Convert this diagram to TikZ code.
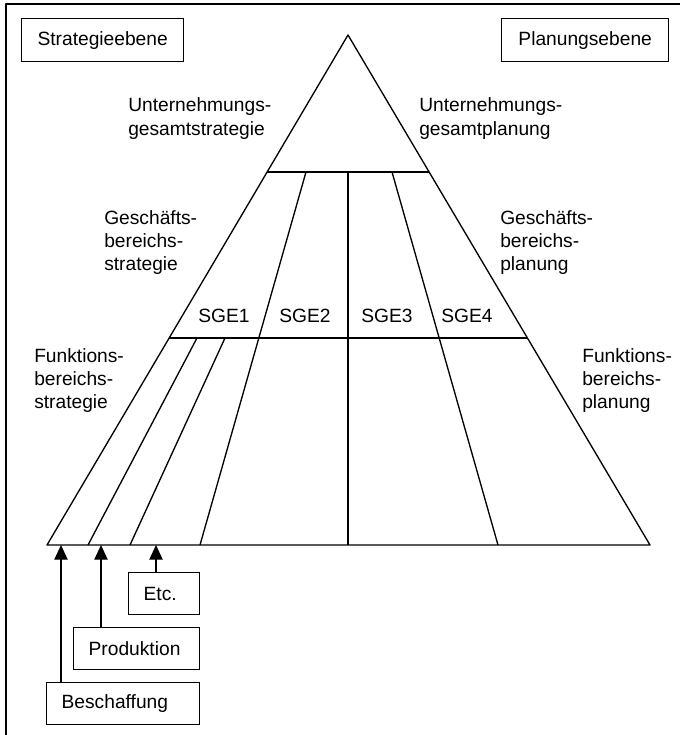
\documentclass[tikz,border=0pt]{standalone}
\usepackage{fontspec}
\setmainfont{Liberation Sans}
\usetikzlibrary{arrows.meta}
\begin{document}
\begin{tikzpicture}[x=0.75pt,y=-0.75pt,
  ln/.style={line width=1pt, line join=round},
  txt/.style={font=\fontsize{14.4}{17.25}\selectfont},
  lbl/.style={txt, inner sep=0pt, align=left, anchor=base west},
  sge/.style={txt, inner sep=0pt, anchor=base},
  topbox/.style={txt, draw, line width=1pt, anchor=north west, minimum height=32.25pt, inner sep=0pt},
  srcbox/.style={txt, draw, line width=1pt, anchor=north west, inner xsep=11.25pt, inner ysep=0pt, align=left, minimum height=31.5pt},
  arr/.style={line width=1pt, -{Triangle[length=11pt,width=10pt]}}
]
\useasboundingbox (0,0) rectangle (680,735);
% frame (top and left edges visible)
\draw[ln] (680,4) -- (6,4) -- (6,735);

% top boxes
\node[topbox, minimum width=121.5pt] (strat) at (21,18) {Strategieebene};
\node[topbox, minimum width=125.25pt] (plan) at (501,18) {Planungsebene};

% pyramid
\coordinate (apex) at (348,35);
\coordinate (bl) at (47,545);
\coordinate (br) at (650,545);
\draw[ln] (apex) -- (bl) -- (br) -- cycle;

\coordinate (l1a) at (267.1,172);
\coordinate (l1b) at (429.1,172);
\coordinate (l2a) at (169.2,338);
\coordinate (l2b) at (527.4,338);
\draw[ln] (l1a) -- (l1b);
\draw[ln] (l2a) -- (l2b);

\coordinate (c1) at (348,172);
\coordinate (c2) at (348,545);
\draw[ln] (c1) -- (c2);

\coordinate (d1a) at (306,172);
\coordinate (d1b) at (200,545);
\coordinate (d2a) at (392,172);
\coordinate (d2b) at (498,545);
\draw[ln] (d1a) -- (d1b);
\draw[ln] (d2a) -- (d2b);

\coordinate (f1a) at (197,338);
\coordinate (f1b) at (88,545);
\coordinate (f2a) at (225,338);
\coordinate (f2b) at (130,545);
\draw[ln] (f1a) -- (f1b);
\draw[ln] (f2a) -- (f2b);

% SGE labels
\node[sge] (sge1) at (224,322) {SGE1};
\node[sge] (sge2) at (305,322) {SGE2};
\node[sge] (sge3) at (387,322) {SGE3};
\node[sge] (sge4) at (467,322) {SGE4};

% level labels (base anchor = baseline of last line)
\node[lbl] (ugs) at (128,135) {Unternehmungs-\\gesamtstrategie};
\node[lbl] (ugp) at (419,135) {Unternehmungs-\\gesamtplanung};
\node[lbl] (gbs) at (104,270) {Geschäfts-\\bereichs-\\strategie};
\node[lbl] (gbp) at (500,270) {Geschäfts-\\bereichs-\\planung};
\node[lbl] (fbs) at (34,408) {Funktions-\\bereichs-\\strategie};
\node[lbl] (fbp) at (582,408) {Funktions-\\bereichs-\\planung};

% function boxes
\node[srcbox, text width=30.75pt] (etc) at (128,572) {Etc.};
\node[srcbox, text width=72pt] (prod) at (73,627) {Produktion};
\node[srcbox, text width=92.25pt] (besch) at (46,682) {Beschaffung};

\coordinate (a1) at (61,545);
\coordinate (a2) at (101,545);
\coordinate (a3) at (156,545);
\draw[arr] (besch.north -| a1) -- (a1);
\draw[arr] (prod.north -| a2) -- (a2);
\draw[arr] (etc.north -| a3) -- (a3);
\end{tikzpicture}
\end{document}
